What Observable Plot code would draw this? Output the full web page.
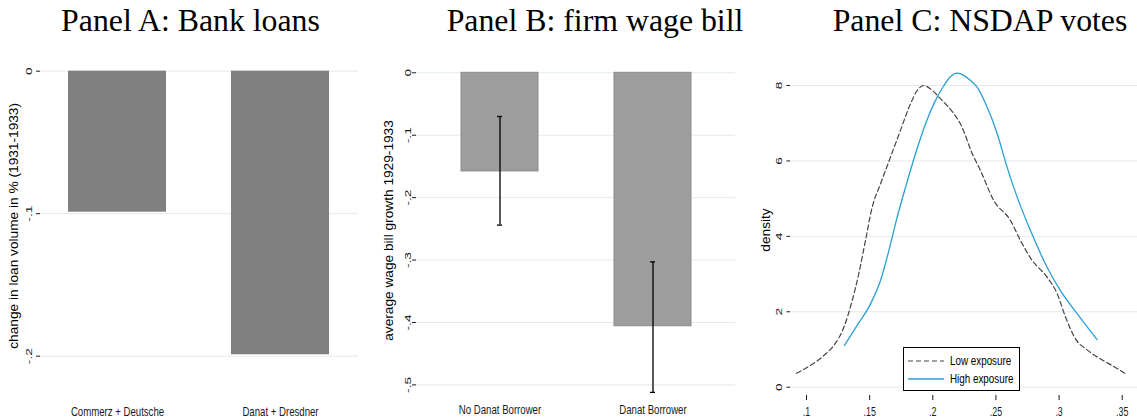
<!DOCTYPE html>
<html>
<head>
<meta charset="utf-8">
<script src="https://cdn.jsdelivr.net/npm/d3@7"></script>
<script src="https://cdn.jsdelivr.net/npm/@observablehq/plot@0.6"></script>
<style>
  body { margin: 0; background: #fff; }
  #chart { position: relative; width: 1137px; height: 420px; overflow: hidden; background: #fff; }
  .title { position: absolute; top: 5px; width: 380px; text-align: center; white-space: nowrap;
           font-family: "Liberation Serif", "Times New Roman", serif; font-size: 31.8px; line-height: 32px; color: #000; }
  .panel { position: absolute; top: 45px; }
  .legend { position: absolute; box-sizing: border-box; border: 1px solid #000; background: #fff;
            font-family: "Liberation Sans", Arial, sans-serif; font-size: 12px; color: #000; }
  .legend .row { position: absolute; left: 0; height: 16px; display: flex; align-items: center; }
  .legend .row span { display: inline-block; transform: scaleX(0.82); transform-origin: left center; white-space: nowrap; }
</style>
</head>
<body>
<div id="chart"></div>
<script>
// Panel titles
const panelTitles = ["Panel A: Bank loans", "Panel B: firm wage bill", "Panel C: NSDAP votes"];

// Panel A: change in loan volume by bank group, 1931-1933
const bankGroups = ["Commerz + Deutsche", "Danat + Dresdner"];
const loanChange = [-0.099, -0.199];
const loanTicks = [0, -0.1, -0.2];
const loanTitle = "change in loan volume in % (1931-1933)";

// Panel B: average wage bill growth 1929-1933 with confidence intervals
const firmGroups = ["No Danat Borrower", "Danat Borrower"];
const wageGrowth = [-0.158, -0.406];
const wageCiLow = [-0.244, -0.512];
const wageCiHigh = [-0.070, -0.303];
const wageTicks = [0, -0.1, -0.2, -0.3, -0.4, -0.5];
const wageTitle = "average wage bill growth 1929-1933";

// Panel C: kernel densities of the NSDAP vote share
const seriesNames = ["Low exposure", "High exposure"];
const lowExposureX = [0.0921, 0.1032, 0.1137, 0.1217, 0.1296, 0.1362, 0.1414, 0.1467, 0.1520, 0.1586,
                      0.1665, 0.1744, 0.1824, 0.1877, 0.1930, 0.1982, 0.2061, 0.2167, 0.2219, 0.2250,
                      0.2299, 0.2377, 0.2483, 0.2615, 0.2694, 0.2787, 0.2905, 0.2985, 0.3051, 0.3130,
                      0.3222, 0.3328, 0.3433, 0.3534];
const lowExposureY = [0.37, 0.58, 0.84, 1.11, 1.59, 2.30, 3.01, 3.89, 4.77, 5.39,
                      6.10, 6.81, 7.52, 7.87, 8.00, 7.91, 7.65, 7.25, 6.98, 6.75,
                      6.30, 5.75, 4.95, 4.42, 3.89, 3.36, 2.92, 2.48, 1.86, 1.28,
                      0.99, 0.75, 0.55, 0.34];
const highExposureX = [0.1301, 0.1401, 0.1507, 0.1586, 0.1652, 0.1718, 0.1784, 0.1863, 0.1942, 0.2009,
                       0.2088, 0.2141, 0.2193, 0.2246, 0.2299, 0.2351, 0.2430, 0.2510, 0.2589, 0.2668,
                       0.2773, 0.2905, 0.3011, 0.3143, 0.3301];
const highExposureY = [1.11, 1.64, 2.21, 2.83, 3.62, 4.51, 5.30, 6.19, 6.98, 7.52,
                       8.00, 8.24, 8.33, 8.27, 8.13, 7.96, 7.43, 6.72, 5.83, 5.04,
                       4.16, 3.18, 2.56, 1.95, 1.26];
const densityTicksX = [0.1, 0.15, 0.2, 0.25, 0.3, 0.35];
const densityTicksY = [0, 2, 4, 6, 8];
const densityTitle = "density";

// Styling
const SANS = "'Liberation Sans', Arial, Helvetica, sans-serif";
const GRID = "#e2ebeb";
const INK = "#1a1a1a";
const BLUE = "#2a9fd2";
const DASHED = "#444444";

// Stata-style numbers: leading zero dropped (.1, -.2)
const stataNum = d => String(d).replace(/^(-?)0\./, "$1.");

// Tables built from the arrays above
const bankData = bankGroups.map((g, i) => ({group: g, value: loanChange[i]}));
const firmData = firmGroups.map((g, i) => ({group: g, value: wageGrowth[i], low: wageCiLow[i], high: wageCiHigh[i]}));
const densityData = [
  ...lowExposureX.map((x, i) => ({series: seriesNames[0], x, y: lowExposureY[i]})),
  ...highExposureX.map((x, i) => ({series: seriesNames[1], x, y: highExposureY[i]}))
];

// Horizontally condense the Stata axis text (its graphs are drawn narrow)
function squeeze(svg, label, k) {
  svg.querySelectorAll(`g[aria-label="${label}"] text`).forEach(t => {
    const tr = t.getAttribute("transform");
    if (!tr) return;
    t.setAttribute("transform", /rotate\(/.test(tr)
      ? tr.replace(/rotate\(/, `scale(${k},1) rotate(`)
      : `${tr} scale(${k},1)`);
  });
}

const baseStyle = {fontFamily: SANS, fontSize: "12.5px", color: INK, background: "transparent", overflow: "visible"};
const yTickText = {tickRotate: -90, textAnchor: "middle", lineAnchor: "bottom", fontSize: 13.7, line: true, label: null};
const yTitleText = {frameAnchor: "left", rotate: -90, textAnchor: "middle", lineAnchor: "bottom", fontSize: 13.7, fill: "#000", ariaLabel: "y-title"};

// ---- Panel A ----
const plotA = Plot.plot({
  width: 380, height: 375,
  marginLeft: 40, marginRight: 22, marginTop: 11.7, marginBottom: 22,
  style: baseStyle,
  x: {domain: bankGroups, paddingInner: 0.398, paddingOuter: 0.171, label: null},
  y: {domain: [-0.2297, 0.0098], label: null},
  marks: [
    Plot.gridY(loanTicks, {stroke: GRID, strokeOpacity: 1}),
    Plot.barY(bankData, {x: "group", y: "value", fill: "#808080"}),
    Plot.axisY(loanTicks, {...yTickText, tickSize: 4, tickPadding: 4.5, tickFormat: stataNum}),
    Plot.axisX({tickSize: 0, tickPadding: 9, line: true, label: null}),
    Plot.text([loanTitle], {...yTitleText, dx: -22.5, dy: -2})
  ]
});

// ---- Panel B ----
const plotB = Plot.plot({
  width: 375, height: 375,
  marginLeft: 41, marginRight: 15, marginTop: 19, marginBottom: 20,
  style: baseStyle,
  x: {domain: firmGroups, paddingInner: 0.497, paddingOuter: 0.288, label: null},
  y: {domain: [-0.525, 0.0133], label: null},
  marks: [
    Plot.gridY(wageTicks, {stroke: GRID, strokeOpacity: 1}),
    Plot.barY(firmData, {x: "group", y: "value", fill: "#9d9d9d", stroke: "#8a8a8a", strokeWidth: 1}),
    Plot.ruleX(firmData, {x: "group", y1: "low", y2: "high", stroke: "#000", strokeWidth: 1.3}),
    Plot.tickY(firmData, {x: "group", y: "low", stroke: "#000", strokeWidth: 1.3, insetLeft: 36, insetRight: 36}),
    Plot.tickY(firmData, {x: "group", y: "high", stroke: "#000", strokeWidth: 1.3, insetLeft: 36, insetRight: 36}),
    Plot.axisY(wageTicks, {...yTickText, tickSize: 4, tickPadding: 2, tickFormat: stataNum}),
    Plot.axisX({tickSize: 0, tickPadding: 5, line: true, label: null}),
    Plot.text([wageTitle], {...yTitleText, dx: -24, dy: -2})
  ]
});

// ---- Panel C ----
const plotC = Plot.plot({
  width: 382, height: 375,
  marginLeft: 35, marginRight: 0, marginTop: 19, marginBottom: 25,
  style: baseStyle,
  x: {domain: [0.08733, 0.3621], label: null},
  y: {domain: [-0.22, 8.557], label: null},
  marks: [
    Plot.gridY(densityTicksY, {stroke: GRID, strokeOpacity: 1}),
    Plot.line(densityData.filter(d => d.series === seriesNames[0]),
      {x: "x", y: "y", stroke: DASHED, strokeWidth: 1.2, strokeDasharray: "5,3", curve: "monotone-x"}),
    Plot.line(densityData.filter(d => d.series === seriesNames[1]),
      {x: "x", y: "y", stroke: BLUE, strokeWidth: 1.3, curve: "monotone-x"}),
    Plot.axisY(densityTicksY, {...yTickText, tickSize: 3.5, tickPadding: 5.3}),
    Plot.axisX(densityTicksX, {tickSize: 5, tickPadding: 7, tickFormat: stataNum, fontSize: 12, line: true, label: null}),
    Plot.text([densityTitle], {...yTitleText, dx: -20.3})
  ]
});

for (const p of [plotA, plotB, plotC]) {
  squeeze(p, "y-axis tick label", 0.72);
  squeeze(p, "y-title", 0.72);
}
squeeze(plotA, "x-axis tick label", 0.77);
squeeze(plotB, "x-axis tick label", 0.77);
squeeze(plotC, "x-axis tick label", 0.74);

const chart = document.getElementById("chart");
const panelLefts = [0, 375, 755];
const titleCenters = [190.5, 595, 980];
[plotA, plotB, plotC].forEach((p, i) => {
  const t = document.createElement("div");
  t.className = "title";
  t.style.left = (titleCenters[i] - 190) + "px";
  t.textContent = panelTitles[i];
  chart.appendChild(t);
  p.classList.add("panel");
  p.style.left = panelLefts[i] + "px";
  chart.appendChild(p);
});

// Legend box inside panel C
const legend = document.createElement("div");
legend.className = "legend";
Object.assign(legend.style, {left: "903px", top: "347px", width: "117px", height: "44px"});
const legendStyles = [{stroke: DASHED, dash: "5,3", width: 1.2}, {stroke: BLUE, dash: null, width: 1.3}];
seriesNames.forEach((name, i) => {
  const row = document.createElement("div");
  row.className = "row";
  row.style.top = (5 + i * 17.7) + "px";
  const ns = "http://www.w3.org/2000/svg";
  const s = document.createElementNS(ns, "svg");
  s.setAttribute("width", "46"); s.setAttribute("height", "16");
  const l = document.createElementNS(ns, "line");
  l.setAttribute("x1", "4"); l.setAttribute("x2", "40");
  l.setAttribute("y1", "8"); l.setAttribute("y2", "8");
  l.setAttribute("stroke", legendStyles[i].stroke);
  l.setAttribute("stroke-width", legendStyles[i].width);
  if (legendStyles[i].dash) l.setAttribute("stroke-dasharray", legendStyles[i].dash);
  s.appendChild(l);
  const span = document.createElement("span");
  span.textContent = name;
  row.appendChild(s);
  row.appendChild(span);
  legend.appendChild(row);
});
chart.appendChild(legend);
</script>
</body>
</html>
